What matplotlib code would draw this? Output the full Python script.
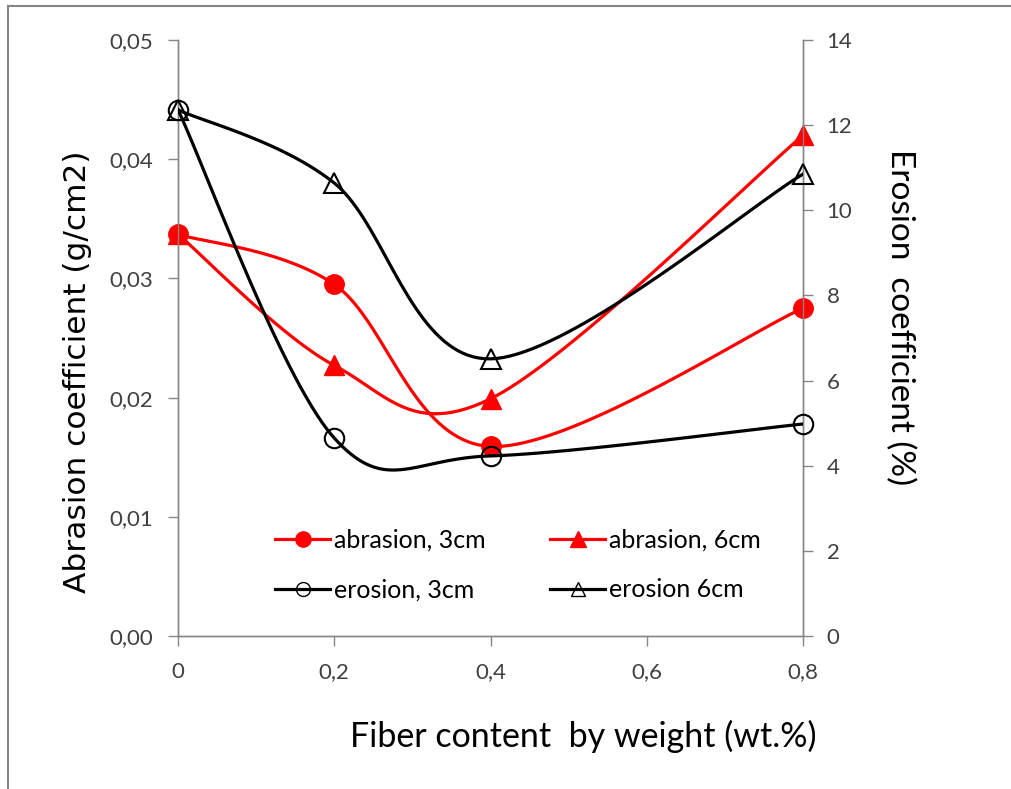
import numpy as np
import matplotlib.pyplot as plt
from matplotlib.lines import Line2D

# data
fiber = [0.0, 0.2, 0.4, 0.8]
abrasion_3cm = [0.0337, 0.0295, 0.0159, 0.0275]
abrasion_6cm = [0.0337, 0.0227, 0.0199, 0.0420]
erosion_3cm = [12.36, 4.65, 4.23, 4.98]
erosion_6cm = [12.36, 10.64, 6.51, 10.85]

x_ticks = [0, 0.2, 0.4, 0.6, 0.8]
x_ticklabels = ["0", "0,2", "0,4", "0,6", "0,8"]
left_ticks = [0, 0.01, 0.02, 0.03, 0.04, 0.05]
left_ticklabels = ["0,00", "0,01", "0,02", "0,03", "0,04", "0,05"]
right_ticks = [0, 2, 4, 6, 8, 10, 12, 14]

CAL = ["Lato", "DejaVu Sans"]
GRAY = "#868686"
TXT = "#404040"


def smooth(xs, ys, n=40):
    # Excel-like smoothed line: cubic bezier between points, tangents from neighbours
    xs = np.asarray(xs, float)
    ys = np.asarray(ys, float)
    px = np.concatenate([[xs[0]], xs, [xs[-1]]])
    py = np.concatenate([[ys[0]], ys, [ys[-1]]])
    out_x, out_y = [], []
    t = np.linspace(0, 1, n)
    for i in range(1, len(xs)):
        p0 = np.array([px[i], py[i]])
        p3 = np.array([px[i + 1], py[i + 1]])
        c1 = p0 + (p3 - np.array([px[i - 1], py[i - 1]])) / 6
        c2 = p3 - (np.array([px[i + 2], py[i + 2]]) - p0) / 6
        b = ((1 - t) ** 3)[:, None] * p0 + (3 * (1 - t) ** 2 * t)[:, None] * c1 \
            + (3 * (1 - t) * t ** 2)[:, None] * c2 + (t ** 3)[:, None] * p3
        out_x.extend(b[:, 0])
        out_y.extend(b[:, 1])
    return out_x, out_y


fig = plt.figure(figsize=(10.11, 7.89), dpi=100)
ax = fig.add_axes([178 / 1011, 1 - 636 / 789, (803 - 178) / 1011, (636 - 40) / 789])
ax2 = ax.twinx()

lw = 2.3
ms = 14
ax.plot(*smooth(fiber, abrasion_3cm), color="red", lw=lw, zorder=3)
ax.plot(fiber, abrasion_3cm, "o", color="red", ms=ms, zorder=4, clip_on=False)
ax.plot(*smooth(fiber, abrasion_6cm), color="red", lw=lw, zorder=3)
ax.plot(fiber, abrasion_6cm, "^", color="red", ms=ms, zorder=4, clip_on=False)

ax2.plot(*smooth(fiber, erosion_3cm), color="black", lw=lw, zorder=3)
ax2.plot(fiber, erosion_3cm, "o", mfc="none", mec="black", mew=1.5, ms=ms, zorder=4, clip_on=False)
ax2.plot(*smooth(fiber, erosion_6cm), color="black", lw=lw, zorder=3)
ax2.plot(fiber, erosion_6cm, "^", mfc="none", mec="black", mew=1.5, ms=ms, zorder=4, clip_on=False)

ax.set_xlim(0, 0.8)
ax.set_ylim(0, 0.05)
ax2.set_ylim(0, 14)

ax.set_xticks(x_ticks)
ax.set_xticklabels(x_ticklabels, fontfamily=CAL, fontsize=16, color=TXT)
ax.set_yticks(left_ticks)
ax.set_yticklabels(left_ticklabels, fontfamily=CAL, fontsize=16, color=TXT)
ax2.set_yticks(right_ticks)
ax2.set_yticklabels([str(v) for v in right_ticks], fontfamily=CAL, fontsize=16, color=TXT)

for a in (ax, ax2):
    for s in a.spines.values():
        s.set_color(GRAY)
        s.set_linewidth(1)
    a.spines["top"].set_visible(False)
    a.tick_params(direction="out", length=7, width=1, color=GRAY)
ax.tick_params(axis="x", pad=12)
ax.tick_params(axis="y", pad=11)
ax2.tick_params(axis="y", pad=10)

fig.text(583 / 1011, 1 - 736 / 789, "Fiber content  by weight (wt.%)",
         ha="center", va="center", fontsize=24.5, family=CAL)
fig.text(78 / 1011, 1 - 372 / 789, "Abrasion coefficient (g/cm2)",
         ha="center", va="center", rotation=90, fontsize=22.5, family="DejaVu Sans")
fig.text(900 / 1011, 1 - 317 / 789, "Erosion  coefficient (%)",
         ha="center", va="center", rotation=270, fontsize=24, family=CAL)

handles = [
    Line2D([], [], color="red", lw=lw, marker="o", ms=11),
    Line2D([], [], color="black", lw=lw, marker="o", mfc="none", mec="black", ms=10),
    Line2D([], [], color="red", lw=lw, marker="^", ms=11),
    Line2D([], [], color="black", lw=lw, marker="^", mfc="none", mec="black", ms=10),
]
labels = ["abrasion, 3cm", "erosion, 3cm", "abrasion, 6cm", "erosion 6cm"]
ax2.legend(handles, labels, ncol=2, loc="upper left", bbox_to_anchor=(275 / 1011, 1 - 529 / 789),
           bbox_transform=fig.transFigure, frameon=False, prop={"family": CAL, "size": 18},
           handlelength=2.2, handletextpad=0.15, columnspacing=2.6, labelspacing=1.05,
           borderpad=0, borderaxespad=0)

# thin frame of the chart area (left and top edges only visible)
fig.add_artist(Line2D([8 / 1011, 8 / 1011], [0, 1 - 6 / 789], color=GRAY, lw=1.5))
fig.add_artist(Line2D([8 / 1011, 1], [1 - 6 / 789, 1 - 6 / 789], color=GRAY, lw=1.5))

fig.savefig("out.png", dpi=100)
